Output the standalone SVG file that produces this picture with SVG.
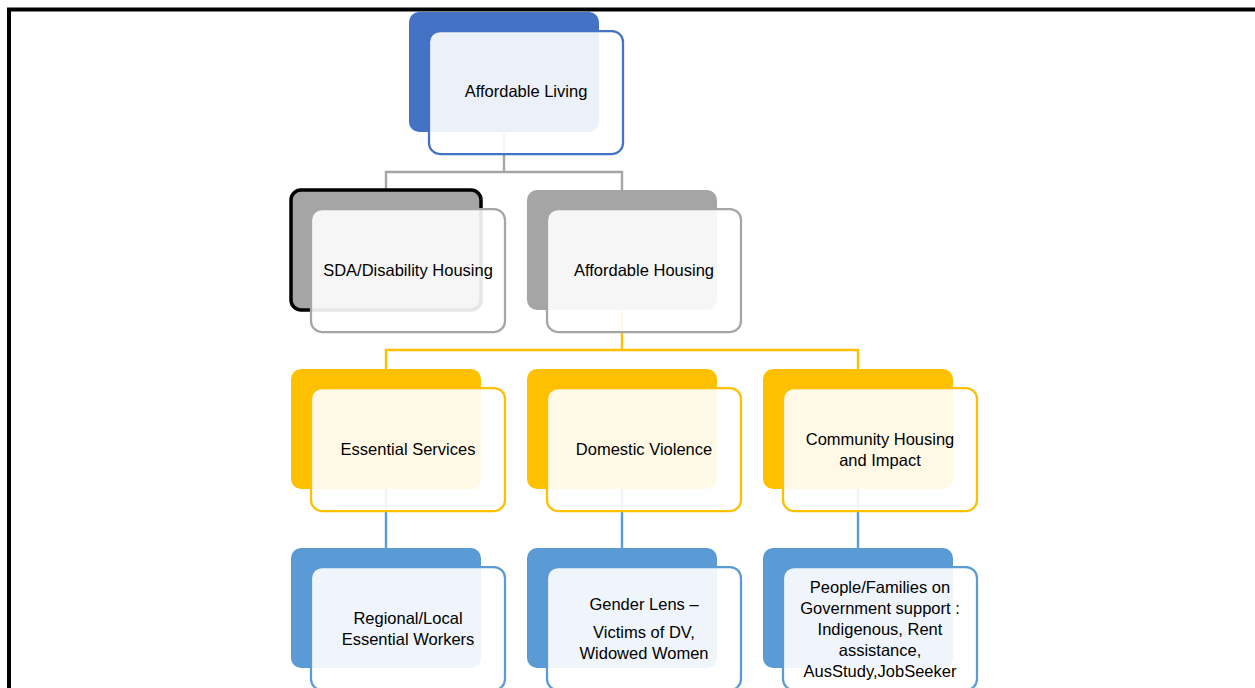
<svg xmlns="http://www.w3.org/2000/svg" width="1255" height="688" viewBox="0 0 1255 688">
  <style>
    .lbl { font-family: "Liberation Sans", Arial, sans-serif; font-size: 16.5px; fill: #000; text-anchor: middle; }
    .front { fill: #ffffff; fill-opacity: 0.9; stroke-width: 2.25; }
    .conn { fill: none; stroke-width: 2.4; }
    .blue-d .back { fill: #4472C4; }
    .blue-d .front { stroke: #4472C4; }
    .grey .back { fill: #A5A5A5; }
    .grey .front { stroke: #A5A5A5; }
    .gold .back { fill: #FFC000; }
    .gold .front { stroke: #FFC000; }
    .blue-l .back { fill: #5B9BD5; }
    .blue-l .front { stroke: #5B9BD5; }
    .outlined { stroke: #000; stroke-width: 3.5; }
  </style>

  <rect width="1255" height="688" fill="#ffffff"/>
  <!-- page frame -->
  <rect x="9" y="9.5" width="1300" height="800" fill="none" stroke="#000" stroke-width="4"/>

  <!-- connectors -->
  <g id="connectors">
    <path class="conn" stroke="#A5A5A5" d="M504 131 V172 M386 190 V172 H622 V190"/>
    <path class="conn" stroke="#FFC000" d="M622 310 V350 M386 369 V350 H858 V369"/>
    <path class="conn" stroke="#5B9BD5" d="M386 489 V548 M622 489 V548 M858 489 V548"/>
  </g>

  <!-- level 1 -->
  <g id="affordable-living" class="blue-d">
    <rect class="back" x="409" y="12" width="190" height="120" rx="10"/>
    <rect class="front" x="429" y="31" width="194" height="123" rx="11"/>
    <text class="lbl" x="526" y="97">Affordable Living</text>
  </g>

  <!-- level 2 -->
  <g id="sda-housing" class="grey">
    <rect class="back outlined" x="291" y="190" width="190" height="120" rx="10"/>
    <rect class="front" x="311" y="209" width="194" height="123" rx="11"/>
    <text class="lbl" x="408" y="276">SDA/Disability Housing</text>
  </g>
  <g id="affordable-housing" class="grey">
    <rect class="back" x="527" y="190" width="190" height="120" rx="10"/>
    <rect class="front" x="547" y="209" width="194" height="123" rx="11"/>
    <text class="lbl" x="644" y="276">Affordable Housing</text>
  </g>

  <!-- level 3 -->
  <g id="essential-services" class="gold">
    <rect class="back" x="291" y="369" width="190" height="120" rx="10"/>
    <rect class="front" x="311" y="388" width="194" height="123" rx="11"/>
    <text class="lbl" x="408" y="455">Essential Services</text>
  </g>
  <g id="domestic-violence" class="gold">
    <rect class="back" x="527" y="369" width="190" height="120" rx="10"/>
    <rect class="front" x="547" y="388" width="194" height="123" rx="11"/>
    <text class="lbl" x="644" y="455">Domestic Violence</text>
  </g>
  <g id="community-housing" class="gold">
    <rect class="back" x="763" y="369" width="190" height="120" rx="10"/>
    <rect class="front" x="783" y="388" width="194" height="123" rx="11"/>
    <text class="lbl" x="880" y="445">Community Housing</text>
    <text class="lbl" x="880" y="466">and Impact</text>
  </g>

  <!-- level 4 -->
  <g id="essential-workers" class="blue-l">
    <rect class="back" x="291" y="548" width="190" height="120" rx="10"/>
    <rect class="front" x="311" y="567" width="194" height="123" rx="11"/>
    <text class="lbl" x="408" y="624">Regional/Local</text>
    <text class="lbl" x="408" y="645">Essential Workers</text>
  </g>
  <g id="gender-lens" class="blue-l">
    <rect class="back" x="527" y="548" width="190" height="120" rx="10"/>
    <rect class="front" x="547" y="567" width="194" height="123" rx="11"/>
    <text class="lbl" x="644" y="610">Gender Lens –</text>
    <text class="lbl" x="644" y="638">Victims of DV,</text>
    <text class="lbl" x="644" y="659">Widowed Women</text>
  </g>
  <g id="government-support" class="blue-l">
    <rect class="back" x="763" y="548" width="190" height="120" rx="10"/>
    <rect class="front" x="783" y="567" width="194" height="123" rx="11"/>
    <text class="lbl" x="880" y="593">People/Families on</text>
    <text class="lbl" x="880" y="614">Government support :</text>
    <text class="lbl" x="880" y="635">Indigenous, Rent</text>
    <text class="lbl" x="880" y="656">assistance,</text>
    <text class="lbl" x="880" y="677">AusStudy,JobSeeker</text>
  </g>
</svg>
